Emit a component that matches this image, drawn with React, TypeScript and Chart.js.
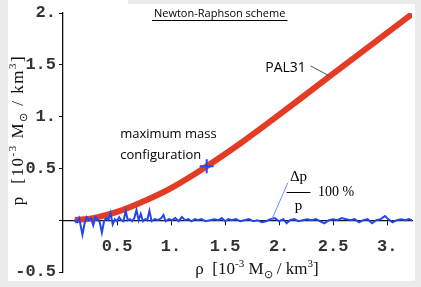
import React, { useEffect, useRef } from "react";
import { Chart, registerables } from "chart.js";

Chart.register(...registerables);

// PAL31 pressure curve  (rho [1e-3 Msun/km^3], p [1e-3 Msun/km^3])
const pressureDensity = [0.11, 0.28, 0.5, 0.74, 1.0, 1.33, 1.64, 1.94, 2.47, 3.23];
const pressureValues = [0.0, 0.02, 0.08, 0.18, 0.31, 0.52, 0.74, 0.97, 1.39, 1.99];

// relative error  Δp/p · 100 %
const errorDensity = [
  0.1, 0.13, 0.15, 0.18, 0.2, 0.22, 0.24, 0.26, 0.28, 0.3,
  0.32, 0.34, 0.36, 0.38, 0.4, 0.42, 0.44, 0.46, 0.48, 0.5,
  0.52, 0.54, 0.56, 0.58, 0.6, 0.62, 0.64, 0.66, 0.68, 0.7,
  0.72, 0.74, 0.76, 0.78, 0.8, 0.82, 0.85, 0.88, 0.91, 0.93,
  0.95, 0.98, 1.01, 1.04, 1.07, 1.1, 1.13, 1.16, 1.19, 1.22,
  1.25, 1.28, 1.32, 1.36, 1.4, 1.44, 1.47, 1.5, 1.53, 1.56,
  1.6, 1.64, 1.68, 1.72, 1.76, 1.8, 1.84, 1.88, 1.92, 1.96,
  2.0, 2.04, 2.07, 2.1, 2.14, 2.18, 2.22, 2.26, 2.3, 2.34,
  2.38, 2.42, 2.46, 2.5, 2.54, 2.58, 2.62, 2.66, 2.7, 2.74,
  2.78, 2.82, 2.86, 2.9, 2.94, 2.98, 3.01, 3.05, 3.09, 3.13,
  3.17, 3.2, 3.23,
];
const errorValues = [
  0.0, -0.02, 0.02, -0.14, -0.03, 0.03, 0.0, 0.02, -0.05, 0.03,
  0.01, -0.02, -0.12, -0.01, 0.02, 0.0, 0.07, -0.04, 0.01, -0.01,
  0.03, 0.0, -0.01, 0.09, 0.0, 0.01, -0.01, 0.02, 0.1, 0.0,
  0.06, -0.01, 0.01, 0.0, 0.09, -0.01, 0.01, 0.0, 0.02, 0.05,
  -0.01, 0.01, 0.0, 0.02, -0.01, 0.03, 0.0, 0.01, -0.01, 0.01,
  0.0, 0.01, -0.01, 0.0, 0.01, 0.0, 0.02, -0.01, 0.01, 0.0,
  0.01, -0.01, 0.0, 0.01, -0.01, 0.0, -0.02, -0.01, 0.01, 0.02,
  -0.01, 0.01, -0.03, 0.0, 0.01, -0.01, 0.0, 0.01, 0.0, 0.01,
  -0.01, -0.03, 0.0, 0.01, 0.0, 0.02, 0.01, 0.0, 0.01, -0.02,
  0.0, 0.01, -0.03, 0.0, 0.01, 0.04, 0.01, -0.02, 0.0, 0.01,
  0.0, 0.01, 0.0,
];

const maxMassDensity = [1.33];
const maxMassPressure = [0.52];

const xTickValues = [0.5, 1, 1.5, 2, 2.5, 3];
const xTickLabels = ["0.5", "1.", "1.5", "2.", "2.5", "3."];
const yTickValues = [-0.5, 0, 0.5, 1, 1.5, 2];
const yTickLabels = ["-0.5", "", "0.5", "1.", "1.5", "2."];

const RED = "#e43b24";
const BLUE = "#2347ee";

type Seg = { t: string; s?: "sup" | "sub" };

function drawRich(
  ctx: CanvasRenderingContext2D,
  segs: Seg[],
  cx: number,
  cy: number,
  size: number,
  family: string,
  color: string
) {
  const fontFor = (s?: string) => `${s ? Math.round(size * 0.66) : size}px ${family}`;
  let total = 0;
  const widths = segs.map((sg) => {
    ctx.font = fontFor(sg.s);
    const w = ctx.measureText(sg.t).width;
    total += w;
    return w;
  });
  let x = cx - total / 2;
  ctx.fillStyle = color;
  ctx.textAlign = "left";
  ctx.textBaseline = "alphabetic";
  const base = cy + size * 0.35;
  segs.forEach((sg, i) => {
    ctx.font = fontFor(sg.s);
    const dy = sg.s === "sup" ? -size * 0.42 : sg.s === "sub" ? size * 0.22 : 0;
    ctx.fillText(sg.t, x, base + dy);
    x += widths[i];
  });
}

const decorPlugin = {
  id: "decor",
  beforeDraw(chart: any) {
    const { ctx, width, height } = chart;
    ctx.save();
    ctx.fillStyle = "#ebebeb";
    ctx.fillRect(0, 0, width, height);
    ctx.fillStyle = "#ffffff";
    ctx.fillRect(8, 0, 407, 281);
    ctx.fillStyle = "#ebebeb";
    ctx.fillRect(128, 0, 293, 4);
    ctx.restore();
  },
  afterDraw(chart: any) {
    const { ctx } = chart;
    const X = (v: number) => chart.scales.x.getPixelForValue(v);
    const Y = (v: number) => chart.scales.y.getPixelForValue(v);
    ctx.save();

    // title
    ctx.font = "11px 'Open Sans'";
    ctx.fillStyle = "#000";
    ctx.textAlign = "center";
    ctx.textBaseline = "middle";
    const tx = X(1.45);
    const ty = Y(1.99);
    ctx.fillText("Newton-Raphson scheme", tx, ty);
    const tw = ctx.measureText("Newton-Raphson scheme").width;
    ctx.strokeStyle = "#000";
    ctx.lineWidth = 1;
    ctx.beginPath();
    ctx.moveTo(tx - tw / 2 - 2, Math.round(ty + 6) + 0.5);
    ctx.lineTo(tx + tw / 2 + 2, Math.round(ty + 6) + 0.5);
    ctx.stroke();

    // PAL31 label
    ctx.font = "500 14px 'Open Sans'";
    ctx.fillText("PAL31", X(2.06), Y(1.47));
    ctx.strokeStyle = "#555";
    ctx.beginPath();
    ctx.moveTo(X(2.29), Y(1.49));
    ctx.lineTo(X(2.47), Y(1.39));
    ctx.stroke();

    // maximum mass configuration
    ctx.font = "500 13px 'Open Sans'";
    ctx.textAlign = "left";
    ctx.fillText("maximum mass", X(0.53), Y(0.83));
    ctx.fillText("configuration", X(0.53), Y(0.63));

    // Δp / p 100 %
    ctx.font = "15px 'Liberation Serif'";
    ctx.textAlign = "center";
    ctx.fillText("\u0394p", X(2.18), Y(0.415));
    ctx.fillText("p", X(2.18), Y(0.14));
    ctx.strokeStyle = "#000";
    ctx.beginPath();
    ctx.moveTo(X(2.07), Math.round(Y(0.27)) + 0.5);
    ctx.lineTo(X(2.29), Math.round(Y(0.27)) + 0.5);
    ctx.stroke();
    ctx.textAlign = "left";
    ctx.font = "14px 'Liberation Serif'";
    ctx.fillText("100 %", X(2.36), Y(0.27));
    ctx.strokeStyle = "#7088ff";
    ctx.beginPath();
    ctx.moveTo(X(1.93), Y(0.0));
    ctx.lineTo(X(2.08), Y(0.36));
    ctx.stroke();

    // axis titles
    const unit: Seg[] = [
      { t: "[10" },
      { t: "-3", s: "sup" },
      { t: " M" },
      { t: "\u2299", s: "sub" },
      { t: " / km" },
      { t: "3", s: "sup" },
      { t: "]" },
    ];
    drawRich(ctx, [{ t: "\u03c1  " }, ...unit], 257, 268, 17, "'Liberation Serif'", "#111");
    ctx.translate(17, 130);
    ctx.rotate(-Math.PI / 2);
    ctx.letterSpacing = "1.5px";
    drawRich(ctx, [{ t: "p  " }, ...unit], 0, 0, 17, "'Liberation Serif'", "#111");
    ctx.restore();
  },
};

export default function App() {
  const canvasRef = useRef<HTMLCanvasElement | null>(null);

  useEffect(() => {
    const canvas = canvasRef.current;
    if (!canvas) return;
    const toPts = (xs: number[], ys: number[]) => xs.map((x, i) => ({ x, y: ys[i] }));
    const tickFont = { family: "'Liberation Mono'", size: 17, weight: "bold" as const };
    const chart = new Chart(canvas, {
      type: "scatter",
      data: {
        datasets: [
          {
            label: "maximum mass",
            data: toPts(maxMassDensity, maxMassPressure),
            pointStyle: "cross",
            pointRadius: 7,
            borderColor: BLUE,
            backgroundColor: BLUE,
            pointBorderWidth: 2,
            showLine: false,
          },
          {
            label: "error",
            data: toPts(errorDensity, errorValues),
            showLine: true,
            borderColor: BLUE,
            borderWidth: 2,
            pointRadius: 0,
            tension: 0,
          },
          {
            label: "PAL31",
            data: toPts(pressureDensity, pressureValues),
            showLine: true,
            borderColor: RED,
            borderWidth: 6,
            pointRadius: 0,
            tension: 0.4,
          },
        ],
      },
      options: {
        responsive: false,
        animation: false,
        events: [],
        layout: { padding: { left: 8, top: 13, right: 9, bottom: 15 } },
        plugins: { legend: { display: false }, tooltip: { enabled: false } },
        scales: {
          x: {
            type: "linear",
            min: 0,
            max: 3.23,
            position: { y: 0 } as any,
            grid: { display: true, drawOnChartArea: false, drawTicks: true, tickLength: 4, color: "#111" },
            border: { display: true, color: "#111", width: 1.3 },
            ticks: {
              font: tickFont,
              color: "#333",
              padding: 12,
              maxRotation: 0,
              autoSkip: false,
              callback: (v: any) => {
                const i = xTickValues.findIndex((t) => Math.abs(t - Number(v)) < 1e-6);
                return i >= 0 ? xTickLabels[i] : "";
              },
            },
            afterBuildTicks: (s: any) => {
              s.ticks = xTickValues.map((v) => ({ value: v }));
            },
            afterFit: (s: any) => {
              s.height = 0;
              s.paddingLeft = 0;
              s.paddingRight = 0;
            },
          },
          y: {
            type: "linear",
            min: -0.5,
            max: 2,
            position: "left",
            grid: { display: true, drawOnChartArea: false, drawTicks: true, tickLength: 4, color: "#111" },
            border: { display: true, color: "#111", width: 1.3 },
            ticks: {
              font: tickFont,
              color: "#333",
              padding: 3,
              autoSkip: false,
              callback: (v: any) => {
                const i = yTickValues.findIndex((t) => Math.abs(t - Number(v)) < 1e-6);
                return i >= 0 ? yTickLabels[i] : "";
              },
            },
            afterBuildTicks: (s: any) => {
              s.ticks = yTickValues.map((v) => ({ value: v }));
            },
            afterFit: (s: any) => {
              s.width = 55;
              s.paddingTop = 0;
              s.paddingBottom = 0;
            },
          },
        },
      },
      plugins: [decorPlugin],
    });
    return () => chart.destroy();
  }, []);

  return (
    <div style={{ position: "fixed", left: 0, top: 0, width: 421, height: 287 }}>
      <canvas ref={canvasRef} width={421} height={287} style={{ display: "block" }} />
    </div>
  );
}
